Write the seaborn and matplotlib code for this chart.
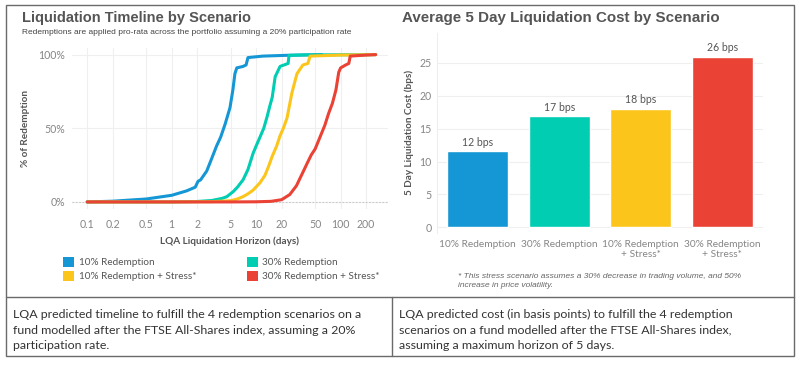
import numpy as np
import pandas as pd
import seaborn as sns
import matplotlib
matplotlib.use("Agg")
import matplotlib.pyplot as plt
from matplotlib.patches import Patch, Rectangle
from matplotlib.lines import Line2D

# ---------------- data ----------------
scenarios = ["10% Redemption", "30% Redemption",
             "10% Redemption + Stress*", "30% Redemption + Stress*"]
colors = ["#1497d4", "#00cdb1", "#fcc51c", "#ea4235"]

days_10 = [0.1, 0.2, 0.5, 1, 1.5, 1.9, 2.05, 2.2, 2.6, 3.0, 3.4, 3.8, 4.3, 4.9,
           5.3, 5.6, 5.9, 7.0, 7.6, 8.0, 12, 25, 60]
pct_10 = [0, 0.5, 2, 4.5, 7.5, 10, 14, 15, 21, 30, 38, 44, 53, 64,
          76, 87, 91, 92, 93, 98, 99, 99.6, 100]

days_30 = [0.1, 1, 2, 3, 4, 4.5, 5.35, 6, 7, 8, 9.2, 10, 11.1, 12.3, 13.5, 14.5,
           15.5, 16.8, 19.2, 23.9, 24.5, 40, 260]
pct_30 = [0, 0, 0.3, 1, 2.5, 3.6, 7, 10, 15, 22, 33, 38, 44, 50, 58, 65,
          71, 85, 92, 94, 99.5, 99.8, 100]

days_10s = [0.1, 1, 3, 5, 6, 7, 8, 9.2, 11.1, 12.7, 14, 15.5, 17.5, 19.2, 21, 23.2,
            26.5, 30.4, 35.8, 41, 43.5, 100, 260]
pct_10s = [0, 0, 0.2, 0.8, 2, 3.6, 5.5, 8, 13, 18, 24, 31, 38, 45, 50, 57,
           74, 87, 93, 94, 99, 99.7, 100]

days_30s = [0.1, 5, 10, 15, 20, 25, 30, 35, 40, 45, 50, 57, 65, 72, 80, 88,
            95, 100, 115, 125, 130, 200, 260]
pct_30s = [0, 0, 0.1, 0.4, 1.5, 5, 11, 19, 26, 32, 36, 44, 52, 60, 67, 76,
           88, 91, 93, 94, 99, 99.7, 100]

x_ticks = [0.1, 0.2, 0.5, 1, 2, 5, 10, 20, 50, 100, 200]
x_tick_labels = ["0.1", "0.2", "0.5", "1", "2", "5", "10", "20", "50", "100", "200"]
y_ticks_left = [0, 50, 100]
y_tick_labels_left = ["0%", "50%", "100%"]

bar_labels = ["10% Redemption", "30% Redemption",
              "10% Redemption\n+ Stress*", "30% Redemption\n+ Stress*"]
cost_bps = [11.6, 16.9, 18.0, 25.9]
cost_text = ["12 bps", "17 bps", "18 bps", "26 bps"]

caption_left = ("LQA predicted timeline to fulfill the 4 redemption scenarios on a\n"
                "fund modelled after the FTSE All-Shares index, assuming a 20%\n"
                "participation rate.")
caption_right = ("LQA predicted cost (in basis points) to fulfill the 4 redemption\n"
                 "scenarios on a fund modelled after the FTSE All-Shares index,\n"
                 "assuming a maximum horizon of 5 days.")

# ---------------- style ----------------
sns.set_theme(style="white")
plt.rcParams["font.family"] = ["Lato", "DejaVu Sans"]

W, H = 800, 366
fig = plt.figure(figsize=(W / 100, H / 100), dpi=100)
fig.patch.set_facecolor("white")

def fx(px):
    return px / W

def fy(py):
    return 1 - py / H

TITLE_C = "#555555"
TICK_C = "#858585"
LABEL_C = "#555555"
GRID_C = "#efefef"

# ---------------- left chart ----------------
axL = fig.add_axes([fx(72), fy(209), fx(388) - fx(72), fy(48) - fy(209)])
frames = []
for name, d, p in zip(scenarios, [days_10, days_30, days_10s, days_30s],
                      [pct_10, pct_30, pct_10s, pct_30s]):
    frames.append(pd.DataFrame({"days": d, "pct": p, "scenario": name}))
df_line = pd.concat(frames, ignore_index=True)

for name, c in zip(scenarios, colors):
    sns.lineplot(data=df_line[df_line["scenario"] == name], x="days", y="pct",
                 color=c, linewidth=2.2, estimator=None, sort=False,
                 legend=False, ax=axL, zorder=3)
axL.set_xscale("log")
axL.set_xlim(0.066, 364)
axL.set_ylim(-4.8, 104.5)
axL.set_xticks(x_ticks)
axL.set_xticklabels(x_tick_labels)
axL.minorticks_off()
axL.set_yticks(y_ticks_left)
axL.set_yticklabels(y_tick_labels_left)
axL.tick_params(axis="both", length=0, labelsize=7.6, colors=TICK_C, pad=5)
axL.tick_params(axis="x", pad=7)
axL.grid(True, color=GRID_C, linewidth=0.8)
axL.axhline(0, color="#c8c8c8", linewidth=0.8, linestyle=(0, (1.5, 1.5)), zorder=1)
for s in axL.spines.values():
    s.set_visible(False)
axL.axhline(-4.8, color="#eeeeee", linewidth=0.8)
axL.set_xlabel("LQA Liquidation Horizon (days)", fontsize=7.2, color=LABEL_C,
               fontweight="bold", labelpad=5)
axL.set_ylabel("% of Redemption", fontsize=7.2, color=LABEL_C, fontweight="bold",
               labelpad=6)

handles = [Patch(facecolor=colors[i], edgecolor="none") for i in [0, 2, 1, 3]]
labels = [scenarios[i] for i in [0, 2, 1, 3]]
fig.legend(handles, labels, ncol=2, loc="upper left",
           bbox_to_anchor=(fx(56), fy(250)), frameon=False,
           fontsize=7.2, labelcolor=LABEL_C, handlelength=1.1, handleheight=1.1,
           handletextpad=0.5, columnspacing=5.0, labelspacing=0.4,
           borderpad=0.2)

fig.text(fx(22), fy(18), "Liquidation Timeline by Scenario", fontsize=10.5,
         fontweight="bold", color=TITLE_C, family=["Liberation Sans", "DejaVu Sans"],
         va="center", ha="left")
fig.text(fx(22), fy(32),
         "Redemptions are applied pro-rata across the portfolio assuming a 20% participation rate",
         fontsize=6.05, color="#444444", family=["Liberation Sans", "DejaVu Sans"],
         va="center", ha="left")

# ---------------- right chart ----------------
axR = fig.add_axes([fx(437), fy(232.7), fx(763) - fx(437), fy(33) - fy(232.7)])
df_bar = pd.DataFrame({"scenario": bar_labels, "cost": cost_bps})
sns.barplot(data=df_bar, x="scenario", y="cost", hue="scenario",
            palette=colors, width=0.75, legend=False, ax=axR, saturation=1)
axR.set_xlim(-0.5, 3.5)
axR.set_ylim(-0.8, 29.5)
axR.set_yticks([0, 5, 10, 15, 20, 25])
axR.tick_params(axis="both", length=0, labelsize=7.6, colors=TICK_C, pad=4)
axR.tick_params(axis="x", pad=5, labelsize=7.3)
axR.grid(True, axis="y", color=GRID_C, linewidth=0.8)
for s in axR.spines.values():
    s.set_visible(False)
axR.spines["left"].set_visible(True)
axR.spines["left"].set_color("#eeeeee")
axR.spines["left"].set_linewidth(0.8)
axR.set_xlabel("")
axR.set_ylabel("5 Day Liquidation Cost (bps)", fontsize=7.2, color=LABEL_C,
               fontweight="bold", labelpad=4)
for i, (v, t) in enumerate(zip(cost_bps, cost_text)):
    axR.annotate(t, (i, v), xytext=(0, 2.5), textcoords="offset points",
                 ha="center", va="bottom", fontsize=7.6, color="#555555")

fig.text(fx(402), fy(18), "Average 5 Day Liquidation Cost by Scenario", fontsize=10.9,
         fontweight="bold", color=TITLE_C, family=["Liberation Sans", "DejaVu Sans"],
         va="center", ha="left")
fig.text(fx(458), fy(281),
         "* This stress scenario assumes a 30% decrease in trading volume, and 50%\nincrease in price volatility.",
         fontsize=6, style="italic", color="#666666",
         family=["Liberation Sans", "DejaVu Sans"], va="center", ha="left",
         linespacing=1.35)

# ---------------- table frame ----------------
frame_c = "#6a6a6a"
fig.add_artist(Rectangle((fx(6), fy(356)), fx(794) - fx(6), fy(5) - fy(356),
                         fill=False, edgecolor=frame_c, linewidth=1.0,
                         transform=fig.transFigure))
fig.add_artist(Line2D([fx(6), fx(794)], [fy(297), fy(297)], color=frame_c,
                      linewidth=1.0, transform=fig.transFigure))
fig.add_artist(Line2D([fx(392), fx(392)], [fy(297), fy(356)], color=frame_c,
                      linewidth=1.0, transform=fig.transFigure))

fig.text(fx(13), fy(330), caption_left, fontsize=8.9, color="#333333",
         va="center", ha="left", linespacing=1.5)
fig.text(fx(399), fy(330), caption_right, fontsize=8.9, color="#333333",
         va="center", ha="left", linespacing=1.5)

fig.savefig("out.png", dpi=100, facecolor="white")
